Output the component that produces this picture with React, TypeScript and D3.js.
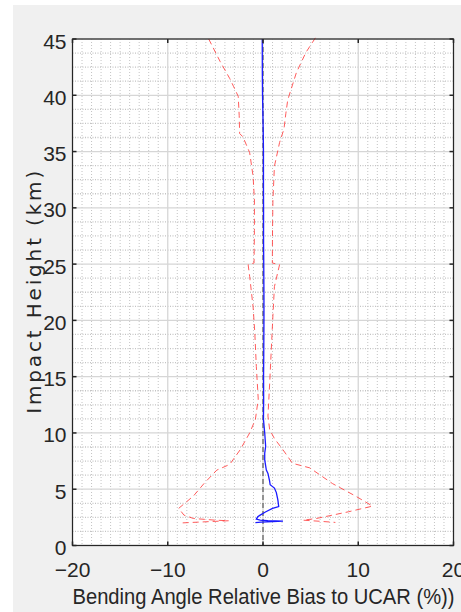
import React from "react";
import * as d3 from "d3";

// Mean relative bias (blue) : [impact height km, bias %]
const meanHeights = [45, 42, 40, 37, 35, 32, 30, 27, 25, 22, 20, 17, 15, 13, 11.2, 10, 8.8, 8.2, 7.6, 6.7, 6.4, 5.7, 5.4, 5.1, 4.7, 4.06, 3.46, 3.3, 3.0, 2.7, 2.55, 2.35, 2.25, 2.2, 2.17, 2.12, 2.07, 2.04];
const meanBias = [-0.08, -0.07, -0.05, 0.02, 0.05, 0.05, 0.06, 0.06, 0.08, 0.1, 0.1, 0.08, 0.06, 0.07, 0.05, 0.18, 0.28, 0.18, 0.18, 0.35, 0.52, 0.7, 0.75, 1.2, 1.4, 1.56, 1.65, 1.0, 0.3, -0.3, -0.55, -0.7, -0.3, 0.5, 2.1, 1.0, -0.2, -0.8];

// Mean minus std (red dashed, left)
const lowerHeights = [45, 43, 41.5, 40.8, 39.9, 38.2, 36.6, 36.3, 34.9, 32.8, 30.7, 28, 25.1, 24.95, 23.9, 21.2, 18.9, 15.9, 13, 11.2, 10, 8.5, 7.2, 6.7, 5.5, 4.4, 3.3, 2.7, 2.4, 2.25, 2.2, 2.1, 2.0];
const lowerBound = [-5.7, -4.5, -3.5, -3.1, -2.6, -2.5, -2.45, -2.1, -1.4, -1.04, -0.9, -0.9, -0.94, -1.56, -1.4, -1.04, -0.86, -0.7, -0.5, -0.8, -1.4, -2.4, -3.5, -4.85, -6.2, -7.3, -8.85, -8.3, -7.3, -5.0, -3.6, -6.2, -8.7];

// Mean plus std (red dashed, right)
const upperHeights = [45.1, 43.8, 42, 39.6, 38.4, 37, 35.8, 33.7, 30.7, 28, 25.1, 24.95, 23, 20.4, 17.4, 14.4, 11.5, 10.3, 9.5, 8.5, 7.3, 6.9, 5.5, 4.4, 3.5, 3.0, 2.4, 2.25, 2.15, 2.05];
const upperBound = [5.5, 4.5, 3.5, 2.6, 2.4, 2.2, 1.74, 1.2, 1.04, 1.0, 0.98, 1.74, 1.2, 1.04, 0.87, 0.7, 0.52, 0.7, 1.2, 2.1, 3.1, 4.9, 7.3, 9.7, 11.5, 9.0, 5.6, 4.2, 6.0, 7.6];

const xTicks = [-20, -10, 0, 10, 20];
const yTicks = [0, 5, 10, 15, 20, 25, 30, 35, 40, 45];
const xMinor = d3.range(-19, 20, 1).filter((v) => v % 10 !== 0);
const yMinor = d3.range(0, 45.01, 1.25).filter((v) => Math.abs(v % 5) > 1e-6);

const xLabel = "Bending Angle Relative Bias to UCAR (%))";
const yLabel = "Impact Height (km)";

const W = 461;
const H = 612;
const L = 72.5, R = 453.5, T = 39, B = 545.5;
const FONT = "'Liberation Sans', Arial, sans-serif";
const YFONT = "'DejaVu Sans', 'Liberation Sans', sans-serif";
const TXT = "#262626";

export default function App() {
  const x = d3.scaleLinear().domain([-20, 20]).range([L, R]);
  const y = d3.scaleLinear().domain([0, 45]).range([B, T]);
  const line = d3
    .line<[number, number]>()
    .x((d) => x(d[1]))
    .y((d) => y(d[0]));
  const zip = (hs: number[], vs: number[]) => hs.map((h, i) => [h, vs[i]] as [number, number]);
  const fmt = (v: number) => (v < 0 ? "\u2212" + Math.abs(v) : String(v));

  return (
    <svg
      width={W}
      height={H}
      style={{ position: "absolute", left: 0, top: 0 }}
      xmlns="http://www.w3.org/2000/svg"
    >
      <rect x={0} y={0} width={W} height={H} fill="#ffffff" />
      <rect x={13} y={5} width={W - 13} height={H - 5} fill="#f0f0f0" />
      <rect x={L} y={T} width={R - L} height={B - T} fill="#ffffff" />

      {/* minor grid */}
      {xMinor.map((v) => (
        <line key={"xm" + v} x1={x(v)} x2={x(v)} y1={T} y2={B} stroke="#c4c4c4" strokeWidth={1} strokeDasharray="1,2" />
      ))}
      {yMinor.map((v) => (
        <line key={"ym" + v} x1={L} x2={R} y1={y(v)} y2={y(v)} stroke="#c4c4c4" strokeWidth={1.3} strokeDasharray="1,1.5" />
      ))}
      {/* major grid */}
      {xTicks.map((v) => (
        <line key={"xg" + v} x1={x(v)} x2={x(v)} y1={T} y2={B} stroke="#d6d6d6" strokeWidth={1.3} />
      ))}
      {yTicks.map((v) => (
        <line key={"yg" + v} x1={L} x2={R} y1={y(v)} y2={y(v)} stroke="#d6d6d6" strokeWidth={1.3} />
      ))}

      {/* zero line */}
      <line x1={x(0)} x2={x(0)} y1={T} y2={B} stroke="#404040" strokeWidth={1} strokeDasharray="5,3" />

      {/* std bounds */}
      <path d={line(zip(lowerHeights, lowerBound)) || ""} fill="none" stroke="#ff4040" strokeOpacity={0.85} strokeWidth={1} strokeDasharray="6,4" />
      <path d={line(zip(upperHeights, upperBound)) || ""} fill="none" stroke="#ff4040" strokeOpacity={0.85} strokeWidth={1} strokeDasharray="6,4" />
      {/* mean */}
      <path d={line(zip(meanHeights, meanBias)) || ""} fill="none" stroke="#1a1aff" strokeWidth={1.3} />

      {/* axes box */}
      <rect x={L} y={T} width={R - L} height={B - T} fill="none" stroke={TXT} strokeWidth={1.2} />
      {/* ticks */}
      {yTicks.map((v) => (
        <g key={"yt" + v}>
          <line x1={L} x2={L + 4} y1={y(v)} y2={y(v)} stroke={TXT} strokeWidth={1.5} />
          <line x1={R - 4} x2={R} y1={y(v)} y2={y(v)} stroke={TXT} strokeWidth={1.5} />
          <text x={L - 6} y={y(v) + 2} textAnchor="end" dominantBaseline="central" fontFamily={FONT} fontSize={21} fill={TXT}>
            {fmt(v)}
          </text>
        </g>
      ))}
      {xTicks.map((v) => (
        <g key={"xt" + v}>
          <line x1={x(v)} x2={x(v)} y1={B} y2={B - 4} stroke={TXT} strokeWidth={1.5} />
          <line x1={x(v)} x2={x(v)} y1={T} y2={T + 4} stroke={TXT} strokeWidth={1.5} />
          <text x={x(v)} y={577} textAnchor="middle" fontFamily={FONT} fontSize={21} fill={TXT}>
            {fmt(v)}
          </text>
        </g>
      ))}

      <text x={L} y={604} fontFamily={FONT} fontSize={22} fill={TXT} textLength={382} lengthAdjust="spacingAndGlyphs">
        {xLabel}
      </text>
      <text
        transform={`translate(41,${(T + B) / 2}) rotate(-90)`}
        textAnchor="middle"
        fontFamily={YFONT}
        fontSize={20}
        fill={TXT}
        textLength={243}
        lengthAdjust="spacing"
      >
        {yLabel}
      </text>
    </svg>
  );
}
